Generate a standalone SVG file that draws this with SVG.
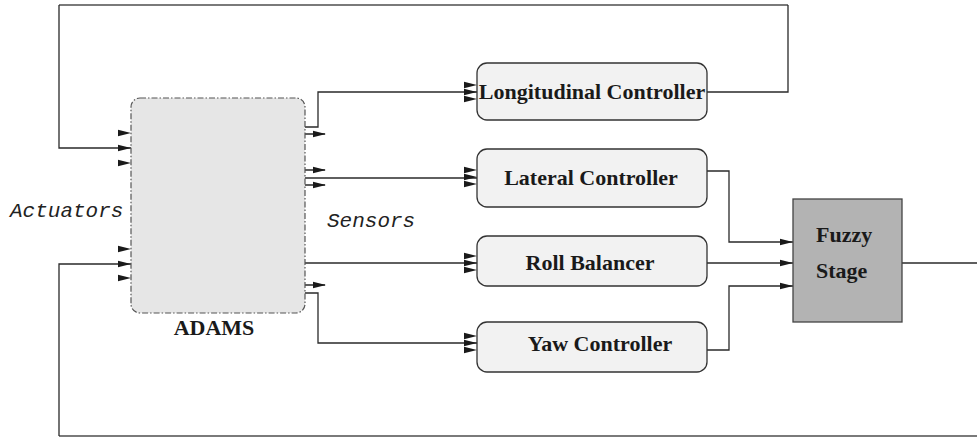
<svg xmlns="http://www.w3.org/2000/svg" xmlns:xlink="http://www.w3.org/1999/xlink" width="977" height="437" viewBox="0 0 977 437">
<style>
.ln{fill:none;stroke:#2a2a2a;stroke-width:1.3}
.gl{fill:none;stroke:#7a7a7a;stroke-width:1.8}
.ctl{fill:#f2f2f2;stroke:#333;stroke-width:1.3}
.lbl{font-family:"Liberation Serif","Times New Roman",serif;font-weight:bold;font-size:22px;fill:#1a1a1a}
.it{font-family:"Liberation Mono","Courier New",monospace;font-style:italic;font-size:21px;fill:#222}
</style>
<defs>
<path id="ah" d="M-13,-3.2 L0,0 L-13,3.2 z" fill="#1a1a1a"/>
</defs>
<g id="connectors">
<path class="gl" d="M59,5 H788"/>
<path class="ln" d="M707,92 H788 V5"/>
<path class="ln" d="M59,5 V148 H131"/>
<path class="gl" d="M977,436 H59"/>
<path class="ln" d="M59,436 V264 H131"/>
<path class="ln" d="M305,127 H318 V92 H477"/>
<path class="ln" d="M305,178 H477"/>
<path class="ln" d="M305,263 H477"/>
<path class="ln" d="M305,293 H318 V343 H477"/>
<path class="ln" d="M305,134 H325 M305,170 H325 M305,185 H325 M305,285 H325"/>
<path class="ln" d="M707,171 H729 V242 H793"/>
<path class="ln" d="M707,263 H793"/>
<path class="ln" d="M707,350 H729 V286 H793"/>
<path class="ln" d="M902,263 H977"/>
<use xlink:href="#ah" x="131" y="133"/>
<use xlink:href="#ah" x="131" y="148"/>
<use xlink:href="#ah" x="131" y="163"/>
<use xlink:href="#ah" x="131" y="249"/>
<use xlink:href="#ah" x="131" y="264"/>
<use xlink:href="#ah" x="131" y="278"/>
<use xlink:href="#ah" x="326" y="134"/>
<use xlink:href="#ah" x="326" y="170"/>
<use xlink:href="#ah" x="326" y="185"/>
<use xlink:href="#ah" x="326" y="285"/>
<use xlink:href="#ah" x="477" y="85"/>
<use xlink:href="#ah" x="477" y="92"/>
<use xlink:href="#ah" x="477" y="99"/>
<use xlink:href="#ah" x="477" y="170"/>
<use xlink:href="#ah" x="477" y="177"/>
<use xlink:href="#ah" x="477" y="184"/>
<use xlink:href="#ah" x="477" y="256"/>
<use xlink:href="#ah" x="477" y="263"/>
<use xlink:href="#ah" x="477" y="270"/>
<use xlink:href="#ah" x="477" y="336"/>
<use xlink:href="#ah" x="477" y="343"/>
<use xlink:href="#ah" x="477" y="350"/>
<use xlink:href="#ah" x="793" y="242"/>
<use xlink:href="#ah" x="793" y="263"/>
<use xlink:href="#ah" x="793" y="286"/>
</g>
<g id="adams">
<rect x="131" y="98" width="174" height="215" rx="9" fill="#e6e6e6" stroke="#555" stroke-width="1.2" stroke-dasharray="6,2,1.5,2"/>
<text class="lbl" x="214" y="335" text-anchor="middle">ADAMS</text>
</g>
<g id="actuators"><text class="it" x="10" y="217">Actuators</text></g>
<g id="sensors"><text class="it" x="327" y="227">Sensors</text></g>
<g id="longitudinal">
<rect class="ctl" x="477" y="63" width="230" height="57" rx="10"/>
<text class="lbl" x="592" y="99" text-anchor="middle">Longitudinal Controller</text>
</g>
<g id="lateral">
<rect class="ctl" x="477" y="149" width="230" height="58" rx="10"/>
<text class="lbl" x="591" y="185" text-anchor="middle">Lateral Controller</text>
</g>
<g id="roll">
<rect class="ctl" x="477" y="236" width="230" height="50" rx="10"/>
<text class="lbl" x="590" y="270" text-anchor="middle">Roll Balancer</text>
</g>
<g id="yaw">
<rect class="ctl" x="477" y="322" width="230" height="50" rx="10"/>
<text class="lbl" x="600" y="351" text-anchor="middle">Yaw Controller</text>
</g>
<g id="fuzzy">
<rect x="793" y="199" width="109" height="123" fill="#b3b3b3" stroke="#444" stroke-width="1.3"/>
<text class="lbl" x="816" y="242">Fuzzy</text>
<text class="lbl" x="816" y="278">Stage</text>
</g>
</svg>
